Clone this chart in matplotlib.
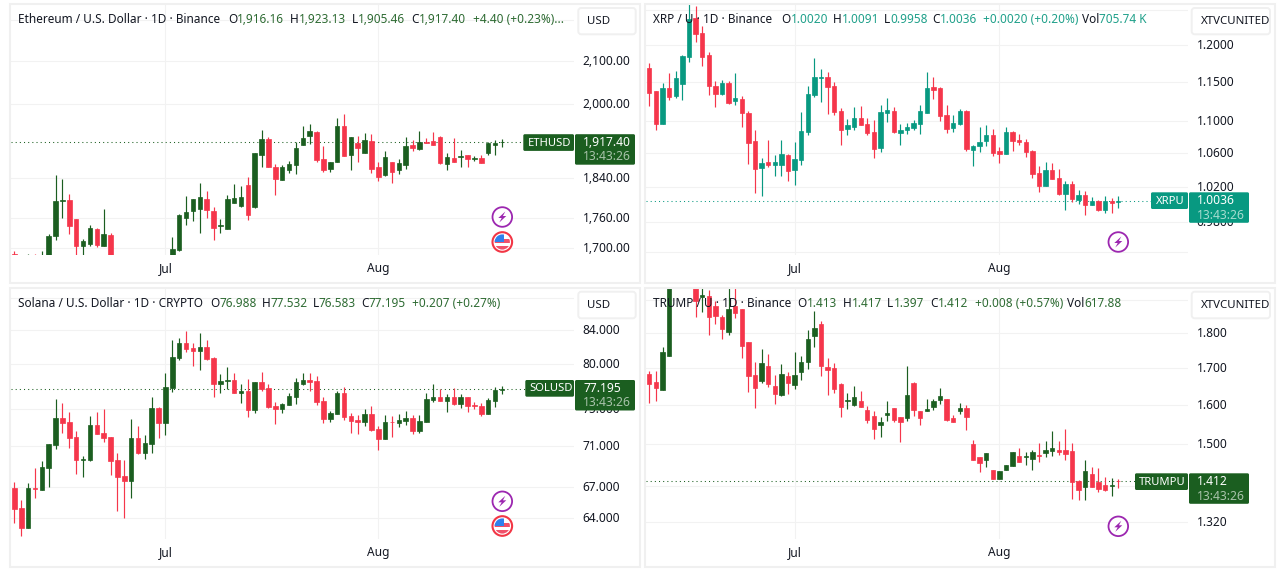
import matplotlib
matplotlib.use("Agg")
import matplotlib.pyplot as plt
import numpy as np
from matplotlib.patches import Circle, FancyBboxPatch, Polygon, Rectangle
from matplotlib.ticker import NullLocator
from matplotlib.transforms import ScaledTranslation

nan = float("nan")
plt.rcParams["font.family"] = ["Noto Sans", "DejaVu Sans"]

# day 0 is 9 Jun, day 71 is 19 Aug; nan = candle is off the visible price range
tick_days = [22, 53]
tick_months = ["Jul", "Aug"]

eth_open = [1689, nan, 1660, 1675, 1660, 1665, 1724, 1794, 1795.5, 1757, 1704.5, 1708, 1737, 1704.5, 1726,
            nan, nan, nan, nan, nan, nan, nan, nan,
            1680, 1697, 1759, 1773, 1777, 1798, 1773, 1743, 1737, 1789, 1783, 1826, 1781, 1890, 1923, 1864.5,
            1837, 1858, 1867, 1910, 1929, 1938, 1880, 1860, 1875, 1953, 1890, 1914, 1893, 1919, 1864.5, 1847,
            1875, 1858, 1867, 1910, 1901, 1916, 1918.6, 1927, 1869, 1882, 1884, 1888, 1881, 1882, 1893, 1911, 1916.16]
eth_high = [1695, nan, 1689, 1689, 1695, 1728, 1847, 1839, 1808, 1757, 1718, 1745, 1739, 1777, 1730,
            nan, nan, nan, nan, nan, nan, nan, nan,
            1722, 1768, 1804, 1798, 1830, 1814, 1781, 1757, 1806, 1828, 1824, 1843, 1894, 1942, 1927, 1870,
            1867, 1877, 1916, 1951, 1957, 1940, 1908, 1875, 1970, 1979, 1927, 1931, 1936, 1934, 1875, 1897,
            1875, 1880, 1927, 1921, 1940, 1925, 1938, 1929, 1893, 1925, 1899, 1888, 1886, 1890, 1916, 1921, 1923.13]
eth_low = [1660, nan, 1655, 1650, 1650, 1655, 1715, 1759, 1728, 1687, 1687, 1705, 1702, 1704, 1670,
           nan, nan, nan, nan, nan, nan, nan, nan,
           1670, 1695, 1745, 1753, 1730, 1759, 1716, 1730, 1737, 1789, 1781, 1755, 1779, 1864, 1864, 1806,
           1837, 1851, 1849, 1910, 1912, 1875, 1854, 1854, 1875, 1886, 1858, 1873, 1893, 1851, 1835, 1845,
           1830, 1849, 1860, 1897, 1899, 1914, 1910, 1869, 1858, 1875, 1864, 1864, 1877, 1871, 1888, 1888, 1905.46]
eth_close = [1670, nan, 1672, 1660, 1680, 1724, 1793, 1795.5, 1743, 1704.5, 1714, 1739, 1706, 1728, 1680,
             nan, nan, nan, nan, nan, nan, nan, nan,
             1699, 1765, 1771, 1798, 1802, 1775, 1739, 1745, 1798, 1800, 1802, 1765, 1892.6, 1923, 1864.5, 1839,
             1863, 1869, 1903, 1925, 1940, 1877.5, 1858, 1875, 1953, 1886, 1927, 1903, 1921, 1860, 1843, 1884,
             1854, 1871, 1908, 1903, 1916, 1914, 1910, 1871, 1884, 1875, 1886, 1880, 1883, 1871, 1914, 1914, 1917.40]

xrp_open = [1.1694, 1.1389, 1.0967, 1.1427, 1.1325, 1.1479, 1.1842, 1.2383, 1.2171, 1.1870, 1.1453, 1.1350,
            1.1491, 1.1261, 1.1286, 1.1107, 1.0754, 1.0422, 1.0495, 1.0459, 1.0459, 1.0580, 1.0398, 1.0519,
            1.0867, 1.1338, 1.1559, 1.1572, 1.1453, 1.1133, 1.0904, 1.0929, 1.1043, 1.0967, 1.0867, 1.0667,
            1.1107, 1.1133, 1.0854, 1.0892, 1.0917, 1.0967, 1.1107, 1.1440, 1.1427, 1.1081, 1.0917, 1.0967,
            1.1133, 1.0642, 1.0691, 1.0754, 1.0829, 1.0629, 1.0592, 1.0867, 1.0766, 1.0741, 1.0629, 1.0362,
            1.0204, 1.0398, 1.0301, 1.0112, 1.0228, 1.0044, 1.0101, 0.9987, 1.0032, 0.9929, 1.0032, 1.0020]
xrp_high = [1.1762, 1.1389, 1.1491, 1.1622, 1.1649, 1.1870, 1.2584, 1.2552, 1.2270, 1.1910, 1.1518, 1.1532,
            1.1518, 1.1627, 1.1325, 1.1133, 1.0892, 1.0543, 1.0766, 1.0580, 1.0766, 1.0592, 1.0741, 1.1120,
            1.1453, 1.1829, 1.1680, 1.1640, 1.1504, 1.1171, 1.1030, 1.1184, 1.1197, 1.1043, 1.1017, 1.1210,
            1.1300, 1.1184, 1.0967, 1.0979, 1.1017, 1.1210, 1.1640, 1.1572, 1.1440, 1.1210, 1.1081, 1.1158,
            1.1146, 1.0704, 1.0929, 1.0954, 1.0904, 1.0679, 1.0929, 1.0879, 1.0842, 1.0779, 1.0642, 1.0446,
            1.0495, 1.0483, 1.0410, 1.0265, 1.0265, 1.0158, 1.0147, 1.0078, 1.0044, 1.0089, 1.0067, 1.0091]
xrp_low = [1.1197, 1.0892, 1.0967, 1.1274, 1.1300, 1.1274, 1.1775, 1.2046, 1.1720, 1.1338, 1.1184, 1.1338,
           1.1222, 1.1210, 1.0929, 1.0471, 1.0124, 1.0089, 1.0434, 1.0325, 1.0325, 1.0265, 1.0216, 1.0459,
           1.0829, 1.1312, 1.1248, 1.1094, 1.1081, 1.0704, 1.0829, 1.0892, 1.0954, 1.0829, 1.0543, 1.0617,
           1.0992, 1.0854, 1.0704, 1.0842, 1.0892, 1.0842, 1.1107, 1.1286, 1.1004, 1.0850, 1.0867, 1.0954,
           1.0629, 1.0446, 1.0617, 1.0691, 1.0567, 1.0483, 1.0592, 1.0629, 1.0704, 1.0556, 1.0301, 1.0135,
           1.0204, 1.0289, 1.0101, 0.9929, 1.0021, 0.9998, 0.9872, 0.9987, 0.9918, 0.9895, 0.9895, 0.9958]
xrp_close = [1.1363, 1.0967, 1.1427, 1.1312, 1.1555, 1.1856, 1.2369, 1.2157, 1.1842, 1.1453, 1.1350, 1.1491,
             1.1235, 1.1300, 1.1107, 1.0729, 1.0410, 1.0483, 1.0459, 1.0495, 1.0592, 1.0386, 1.0531, 1.0879,
             1.1350, 1.1572, 1.1572, 1.1440, 1.1120, 1.0892, 1.0954, 1.1043, 1.0954, 1.0854, 1.0654, 1.1120,
             1.1146, 1.0867, 1.0892, 1.0929, 1.0979, 1.1133, 1.1427, 1.1402, 1.1069, 1.0904, 1.0979, 1.1133,
             1.0654, 1.0691, 1.0741, 1.0829, 1.0604, 1.0592, 1.0867, 1.0754, 1.0741, 1.0617, 1.0350, 1.0204,
             1.0398, 1.0289, 1.0112, 1.0228, 1.0055, 1.0101, 0.9987, 1.0032, 0.9929, 1.0032, 1.0009, 1.0036]

sol_open = [66.84, 64.97, 63.13, 66.84, 66.66, 68.84, 71.14, 73.98, 73.56, 71.98, 69.63, 69.63,
            73.25, 72.40, 71.98, 69.63, 68.04, 67.53, 71.88, 70.33, 71.25, 75.04, 73.46, 77.31,
            80.63, 82.39, 81.80, 81.45, 81.92, 80.63, 77.76, 77.99, 78.10, 76.74, 76.97, 74.82,
            77.88, 77.31, 75.27, 74.93, 75.38, 76.29, 77.76, 78.10, 77.99, 75.83, 73.88, 74.40,
            76.74, 74.19, 73.77, 73.56, 74.40, 72.82, 71.77, 73.56, 73.46, 73.67, 73.98, 72.61,
            73.56, 75.94, 76.29, 75.83, 76.29, 75.49, 76.29, 75.38, 75.27, 74.40, 75.83, 76.988]
sol_high = [67.43, 65.72, 67.33, 68.84, 69.53, 71.25, 76.06, 75.60, 74.61, 72.61, 70.03, 74.19,
            74.61, 74.93, 71.98, 70.33, 69.63, 73.88, 73.14, 72.19, 76.29, 75.15, 78.90, 82.75,
            83.10, 83.92, 82.39, 83.69, 82.75, 80.74, 78.79, 79.58, 78.90, 77.76, 78.22, 77.88,
            79.01, 77.65, 75.72, 75.60, 76.74, 78.33, 78.90, 78.90, 78.56, 76.29, 74.72, 76.97,
            77.42, 74.51, 74.30, 74.93, 75.27, 73.14, 74.30, 74.19, 74.40, 74.72, 74.30, 74.30,
            76.74, 77.76, 77.20, 76.63, 77.31, 76.63, 76.29, 75.72, 75.60, 76.18, 77.42, 77.532]
sol_low = [63.58, 62.41, 63.13, 65.91, 66.66, 66.94, 70.73, 72.40, 70.83, 68.24, 67.93, 69.53,
           72.30, 71.46, 68.14, 64.69, 64.03, 65.91, 70.23, 69.73, 70.33, 71.88, 72.19, 76.85,
           80.39, 81.33, 79.70, 79.24, 80.39, 76.29, 76.74, 77.20, 76.74, 75.60, 74.09, 74.51,
           76.97, 75.04, 73.35, 74.51, 75.38, 75.49, 77.54, 76.97, 75.38, 73.46, 73.56, 74.40,
           73.77, 72.40, 72.30, 73.14, 72.61, 70.63, 71.77, 71.98, 73.03, 73.25, 72.30, 72.40,
           73.56, 75.72, 75.83, 74.61, 75.38, 75.04, 74.61, 74.93, 74.19, 74.40, 75.15, 76.583]
sol_close = [64.88, 63.13, 66.84, 66.75, 68.94, 71.25, 73.98, 73.46, 71.88, 69.63, 69.73, 73.25,
             72.30, 71.88, 69.53, 67.93, 67.53, 71.88, 70.33, 71.35, 75.04, 73.46, 77.42, 80.74,
             82.39, 81.69, 81.45, 81.92, 80.51, 77.76, 77.99, 78.10, 76.74, 76.97, 74.82, 77.88,
             77.20, 75.15, 74.93, 75.49, 76.40, 77.88, 78.10, 77.88, 75.72, 73.88, 74.51, 76.74,
             74.09, 73.67, 73.56, 74.40, 72.72, 71.77, 73.56, 73.53, 73.77, 73.98, 72.61, 73.67,
             76.06, 76.29, 75.83, 76.29, 75.49, 76.29, 75.27, 75.27, 74.40, 75.94, 77.08, 77.195]

trump_open = [1.682, 1.6604, 1.6387, 1.7324, nan, nan, nan, 1.96, 1.9084, 1.9136, 1.8825, 1.8486,
              1.8039, 1.8825, 1.8733, 1.7724, 1.6793, 1.6631, 1.7067, 1.6495, 1.6252, 1.6766, 1.6522, 1.6874,
              1.7153, 1.7924, 1.8277, 1.7038, 1.7010, 1.655, 1.609, 1.6009, 1.609, 1.588, 1.57, 1.547,
              1.5726, 1.5932, 1.5675, 1.5649, 1.6577, 1.5829, 1.5829, 1.5957, 1.6117, 1.6144, 1.5649, 1.5829,
              1.5932, 1.5009, 1.4698, 1.4627, 1.4389, 1.4175, 1.4389, 1.4484, 1.4722, 1.4698, 1.465, 1.4746,
              1.4794, 1.4841, 1.4865, 1.4865, 1.4841, 1.4127, 1.3985, 1.4294, 1.4103, 1.4032, 1.4016, 1.413]
trump_high = [1.6901, 1.6901, 1.7581, 2.02, nan, nan, nan, 1.98, 1.95, 1.9309, 1.8965, 1.8548,
              1.95, 1.95, 1.8733, 1.7724, 1.7153, 1.7524, 1.7381, 1.6793, 1.7096, 1.6874, 1.7438, 1.7324,
              1.8098, 1.8671, 1.8366, 1.7267, 1.7124, 1.6577, 1.6306, 1.6495, 1.636, 1.5983, 1.5829, 1.5675,
              1.609, 1.5932, 1.5675, 1.7067, 1.6604, 1.5829, 1.6144, 1.6144, 1.6441, 1.6144, 1.5726, 1.6063,
              1.6009, 1.5111, 1.4698, 1.4794, 1.4389, 1.4365, 1.4508, 1.4817, 1.4913, 1.4817, 1.4865, 1.5034,
              1.5085, 1.5342, 1.5085, 1.5393, 1.5034, 1.4151, 1.4627, 1.446, 1.4436, 1.4222, 1.4198, 1.417]
trump_low = [1.6063, 1.609, 1.6387, 1.7324, nan, nan, nan, 1.8486, 1.864, 1.7952, 1.8277, 1.781,
             1.7952, 1.8457, 1.7267, 1.6333, 1.5932, 1.6577, 1.6468, 1.6036, 1.6225, 1.6279, 1.6414, 1.6658,
             1.6982, 1.7581, 1.6766, 1.6252, 1.6306, 1.5675, 1.5906, 1.5983, 1.5957, 1.5521, 1.5136, 1.5188,
             1.5572, 1.5547, 1.5059, 1.5572, 1.57, 1.547, 1.5829, 1.588, 1.6036, 1.5572, 1.5547, 1.5752,
             1.5367, 1.4627, 1.4341, 1.446, 1.4175, 1.4175, 1.4389, 1.4484, 1.4579, 1.4508, 1.4389, 1.4579,
             1.4698, 1.4722, 1.4746, 1.4627, 1.3718, 1.3696, 1.3696, 1.3985, 1.3874, 1.3896, 1.3785, 1.397]
trump_close = [1.655, 1.6441, 1.7438, 2.0, nan, nan, nan, 1.8979, 1.9167, 1.8486, 1.8517, 1.8128,
               1.8733, 1.8609, 1.761, 1.6766, 1.6441, 1.7124, 1.655, 1.6279, 1.682, 1.6577, 1.6793, 1.7153,
               1.781, 1.8158, 1.7067, 1.6955, 1.6414, 1.5957, 1.6117, 1.6198, 1.5957, 1.5598, 1.5393, 1.5547,
               1.5778, 1.5598, 1.5547, 1.6252, 1.5855, 1.5649, 1.5906, 1.609, 1.6225, 1.5598, 1.5547, 1.5932,
               1.5675, 1.4627, 1.4555, 1.4794, 1.4175, 1.4365, 1.4508, 1.4817, 1.4579, 1.4722, 1.4817, 1.4722,
               1.4865, 1.4913, 1.4817, 1.477, 1.4103, 1.3918, 1.4365, 1.3985, 1.3941, 1.3918, 1.4032, 1.412]

# blank labels: those ticks sit behind the unit buttons and price tags in the picture
eth_ticks = [2200, 2100, 2000, 1840, 1760, 1700]
eth_labels = ["", "2,100.00", "2,000.00", "1,840.00", "1,760.00", "1,700.00"]
xrp_ticks = [1.25, 1.2, 1.15, 1.1, 1.06, 1.02, 0.98, 0.946]
xrp_labels = ["", "1.2000", "1.1500", "1.1000", "1.0600", "1.0200", "0.9800", ""]
sol_ticks = [88, 84, 80, 75, 71, 67, 64]
sol_labels = ["", "84.000", "80.000", "75.000", "71.000", "67.000", "64.000"]
trump_ticks = [1.9, 1.8, 1.7, 1.6, 1.5, 1.4, 1.32]
trump_labels = ["", "1.800", "1.700", "1.600", "1.500", "", "1.320"]

DARK_GREEN = "#1b5e20"
TEAL = "#089981"
RED = "#f5364b"
INK = "#131722"
GRID = "#f2f2f2"
BORDER = "#f0f0f0"
PURPLE = "#9c27b0"

W, H = 1284, 571
fig = plt.figure(figsize=(W / 100, H / 100), dpi=100, facecolor="white")


def add_panel(left, top, right, bottom, o, h, l, c, ylim, ticks, labels, up):
    ax = fig.add_axes([left / W, 1 - bottom / H, (right - left) / W, (bottom - top) / H])
    o, h, l, c = map(np.array, (o, h, l, c))
    rising = c >= o
    colors = [up if r else RED for r in rising]
    ax.set_yscale("log")
    ax.vlines(range(72), l, h, colors=colors, linewidth=0.85, zorder=2)
    ax.bar(range(72), np.abs(c - o), bottom=np.minimum(o, c), width=0.66, color=colors,
           edgecolor=colors, linewidth=0.5, zorder=3)
    ax.axhline(c[-1], color=up, linewidth=0.75, linestyle=(0, (1, 3)), zorder=1)
    ax.set_xlim(-0.5, 81.55)
    ax.set_ylim(*ylim)
    ax.yaxis.tick_right()
    ax.set_yticks(ticks)
    ax.set_yticklabels(labels)
    ax.yaxis.set_minor_locator(NullLocator())
    ax.set_xticks(tick_days)
    ax.set_xticklabels(tick_months)
    ax.tick_params(axis="y", length=0, pad=6.1, labelsize=8.6, labelcolor=INK)
    ax.tick_params(axis="x", length=0, pad=4.8, labelsize=8.6, labelcolor=INK)
    ax.grid(True, color=GRID, linewidth=0.75)
    ax.set_axisbelow(True)
    nudge = ScaledTranslation(0, 1 / 100, fig.dpi_scale_trans)
    for lab in ax.get_yticklabels():
        lab.set_transform(lab.get_transform() + nudge)
    for s in ax.spines.values():
        s.set_visible(False)
    return ax


add_panel(11, 4, 574.3, 255, eth_open, eth_high, eth_low, eth_close, (1687, 2240.6), eth_ticks, eth_labels, DARK_GREEN)
add_panel(646, 4, 1188, 255, xrp_open, xrp_high, xrp_low, xrp_close, (0.943, 1.2584), xrp_ticks, xrp_labels, TEAL)
add_panel(11, 288, 574.3, 539, sol_open, sol_high, sol_low, sol_close, (62.12, 89.26), sol_ticks, sol_labels, DARK_GREEN)
add_panel(646, 288, 1188, 539, trump_open, trump_high, trump_low, trump_close, (1.2844, 1.9378), trump_ticks, trump_labels, DARK_GREEN)

# everything that sits on top of the charts is placed in pixels
ov = fig.add_axes([0, 0, 1, 1], zorder=5)
ov.set_xlim(0, W)
ov.set_ylim(H, 0)
ov.axis("off")
ov.patch.set_alpha(0)
renderer = fig.canvas.get_renderer()


def header(y, title, title_x, fields, color):
    ov.text(title_x, y, title, color=INK, fontsize=8.5, va="center", ha="left")
    for x, label, value in fields:
        t = ov.text(x, y, label, color=INK, fontsize=8.5, va="center", ha="left")
        end = t.get_window_extent(renderer).x1
        ov.text(end, y, value, color=color, fontsize=8.5, va="center", ha="left")


def box(x0, y0, x1, y1, color, rad=1.5):
    ov.add_patch(FancyBboxPatch((x0 + rad, y0 + rad), x1 - x0 - 2 * rad, y1 - y0 - 2 * rad,
                                boxstyle=f"round,pad={rad},rounding_size={rad}",
                                facecolor=color, edgecolor="none", zorder=3))


def price_tag(name, name_x, tag_x0, tag_x1, box_x0, box_x1, y0, price, fill, time_color):
    box(tag_x0, y0, tag_x1, y0 + 16.7, fill)
    box(box_x0, y0, box_x1, y0 + 30.5, fill)
    ov.text(name_x, y0 + 8.9, name, color="white", fontsize=8.1, va="center", ha="left", zorder=4)
    ov.text(box_x0 + 8.3, y0 + 8.6, price, color="white", fontsize=8.7, va="center", ha="left", zorder=4)
    ov.text(box_x0 + 8.3, y0 + 22.8, "13:43:26", color=time_color, fontsize=8.7, va="center", ha="left", zorder=4)


def unit_button(x0, x1, y0, y1, label):
    ov.add_patch(FancyBboxPatch((x0 + 3, y0 + 3), x1 - x0 - 6, y1 - y0 - 6,
                                boxstyle="round,pad=3,rounding_size=3",
                                facecolor="white", edgecolor=BORDER, linewidth=1.4, zorder=3))
    ov.text(x0 + 9, (y0 + y1) / 2 + 0.5, label, color=INK, fontsize=8.25, va="center", ha="left", zorder=4)


def bolt_icon(cx, cy):
    ov.add_patch(Circle((cx, cy), 9.8, facecolor="white", edgecolor=PURPLE, linewidth=1.3, zorder=3))
    dx = np.array([3.0, -4.0, -0.6, -3.0, 4.0, 0.6])
    dy = np.array([-5.5, 1.0, 1.0, 5.5, -1.0, -1.0])
    ov.add_patch(Polygon(np.c_[cx + dx, cy + dy], facecolor=PURPLE, edgecolor="none", zorder=4))


def flag_icon(cx, cy):
    ov.add_patch(Circle((cx, cy), 9.8, facecolor="white", edgecolor="#f23645", linewidth=1.5, zorder=3))
    clip = Circle((cx, cy), 7.6, transform=ov.transData)
    parts = [(-9, -3, 18, 4, "#f0506a"), (-9, 4, 18, 5, "#f0506a"), (-9, -9, 11, 9, "#2f80ed")]
    for dx, dy, w, h, col in parts:
        r = Rectangle((cx + dx, cy + dy), w, h, facecolor=col, edgecolor="none", zorder=4)
        ov.add_patch(r)
        r.set_clip_path(clip)
    for dx in (-5, -3, -1):
        for dy in (-5.5, -3.5, -1.5):
            ov.add_patch(Rectangle((cx + dx, cy + dy), 0.9, 0.9, facecolor="white", edgecolor="none", zorder=5))


header(19.5, "Ethereum / U.S. Dollar · 1D · Binance", 18,
       [(228, "O", "1,916.16"), (290, "H", "1,923.13"), (351.7, "L", "1,905.46"),
        (411, "C", "1,917.40"), (472.7, "", "+4.40 (+0.23%)...")], "#2e6b33")
header(19.5, "XRP / U · 1D · Binance", 652.7,
       [(781.7, "O", "1.0020"), (832.7, "H", "1.0091"), (884, "L", "0.9958"), (932.7, "C", "1.0036"),
        (982.7, "", "+0.0020 (+0.20%)"), (1081.7, "Vol", "705.74 K")], "#1fa08a")
header(303.2, "Solana / U.S. Dollar · 1D · CRYPTO", 18,
       [(210, "O", "76.988"), (261.7, "H", "77.532"), (312.7, "L", "76.583"),
        (361, "C", "77.195"), (411.7, "", "+0.207 (+0.27%)")], "#2e6b33")
header(303.2, "TRUMP / U · 1D · Binance", 653.3,
       [(797.7, "O", "1.413"), (842.7, "H", "1.417"), (887.3, "L", "1.397"), (930.7, "C", "1.412"),
        (975, "", "+0.008 (+0.57%)"), (1066.7, "Vol", "617.88")], "#2e6b33")

unit_button(578.3, 635.7, 8, 34.3, "USD")
unit_button(1191.7, 1270, 8, 34.3, "XTVCUNITED")
unit_button(578.3, 635.7, 291.7, 318.3, "USD")
unit_button(1191.7, 1270, 291.7, 318.3, "XTVCUNITED")

price_tag("ETHUSD", 528, 523.3, 574, 575, 635, 134.2, "1,917.40", DARK_GREEN, "#a9c3ab")
price_tag("XRPU", 1155.5, 1151, 1188, 1189, 1249, 192.3, "1.0036", TEAL, "#a6dcd0")
price_tag("SOLUSD", 529.3, 525.3, 574, 575, 635, 380, "77.195", DARK_GREEN, "#a9c3ab")
price_tag("TRUMPU", 1139.3, 1135, 1188, 1189, 1249, 473.3, "1.412", DARK_GREEN, "#a9c3ab")

bolt_icon(502.3, 217)
flag_icon(502.3, 242)
bolt_icon(1118.3, 242)
bolt_icon(502.3, 501.3)
flag_icon(502.3, 526)
bolt_icon(1118.3, 526.3)

# panel borders
for x0, y0, x1, y1 in [(10, 3.7, 640, 282.7), (645, 3.7, 1275, 282.7), (10, 287.5, 640, 566.8), (645, 287.5, 1275, 566.8)]:
    ov.add_patch(Rectangle((x0, y0), x1 - x0, y1 - y0, facecolor="none", edgecolor=BORDER, linewidth=1.5, zorder=6))

fig.savefig("out.png", dpi=100)
